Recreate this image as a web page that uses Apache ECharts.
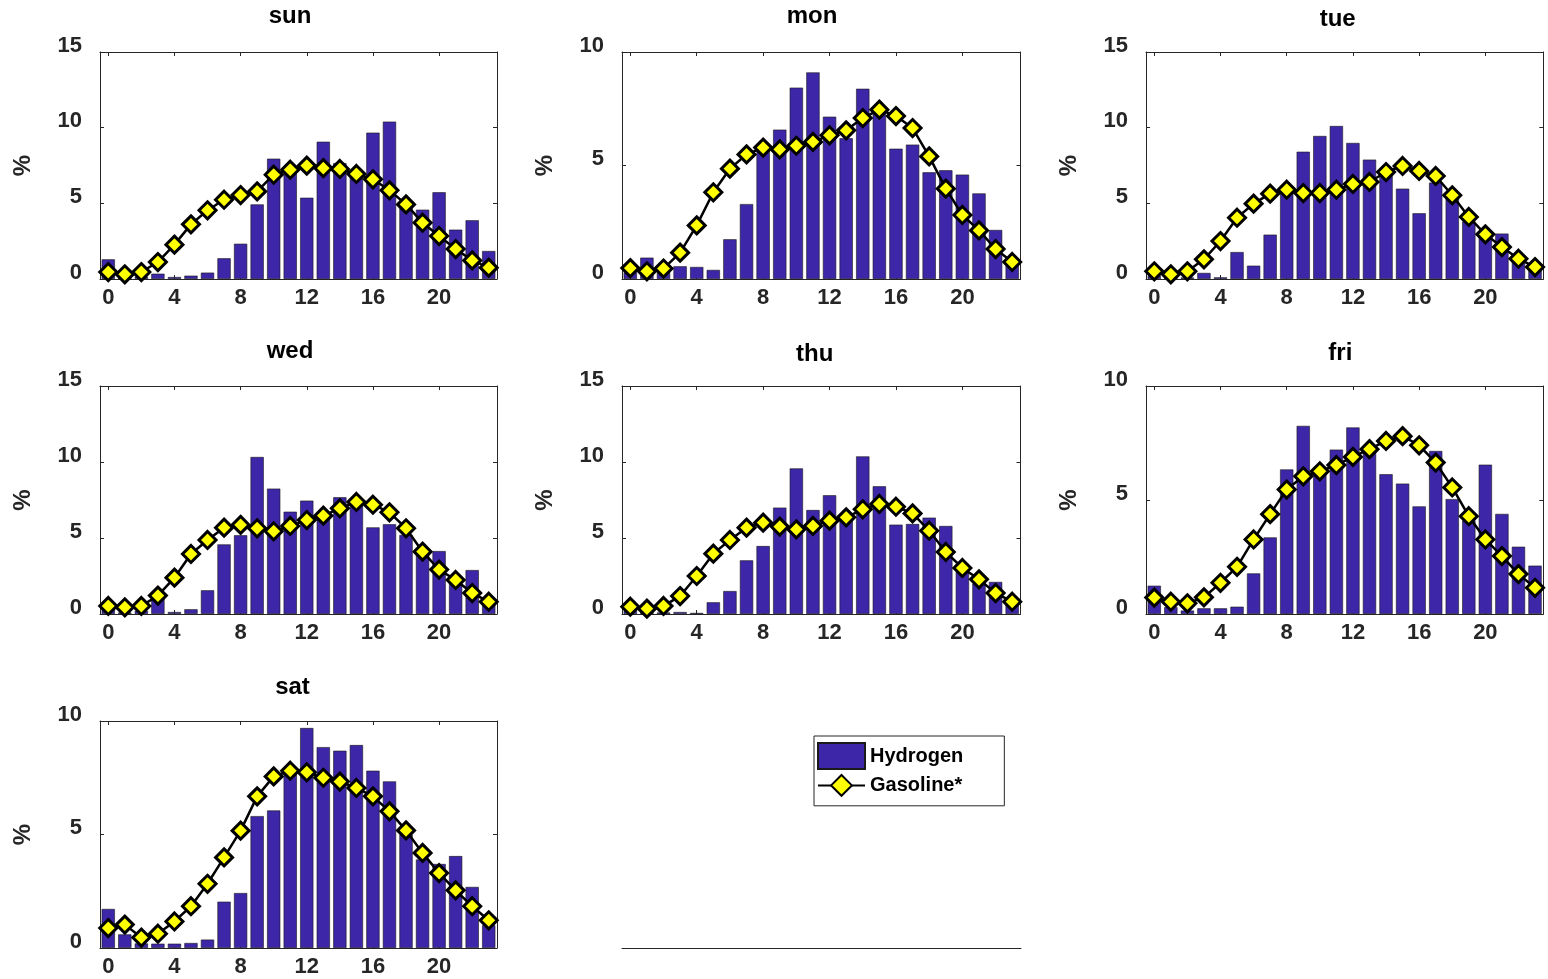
<!DOCTYPE html>
<html><head><meta charset="utf-8">
<script src="https://cdn.jsdelivr.net/npm/echarts@6/dist/echarts.min.js"></script>
<style>html,body{margin:0;padding:0;background:#fff}#c{width:1548px;height:979px}</style>
</head><body><div id="c"></div>
<script>
// ---- data ----
const hours = ['0','1','2','3','4','5','6','7','8','9','10','11','12','13','14','15','16','17','18','19','20','21','22','23'];
const dayNames = ['sun','mon','tue','wed','thu','fri','sat'];
const yMax = [15, 10, 15, 15, 15, 10, 10];
const yStep = 5;
const seriesNames = ['Hydrogen', 'Gasoline*'];

const sunH = [1.30,0.25,0.15,0.35,0.13,0.22,0.42,1.37,2.33,4.93,7.95,7.3,5.37,9.07,7.66,7.0,9.67,10.4,5.0,4.58,5.73,3.26,3.88,1.85];
const sunG = [0.46,0.31,0.46,1.12,2.27,3.61,4.54,5.24,5.55,5.79,6.89,7.22,7.49,7.33,7.27,6.94,6.59,5.86,4.93,3.72,2.84,1.98,1.23,0.75];
const monH = [0.3,0.94,0.3,0.56,0.53,0.40,1.75,3.30,5.75,6.58,8.43,9.10,7.15,6.20,8.38,7.3,5.74,5.92,4.70,4.79,4.60,3.77,2.16,0.6];
const monG = [0.48,0.34,0.46,1.16,2.36,3.82,4.86,5.49,5.79,5.71,5.87,6.04,6.33,6.55,7.09,7.46,7.18,6.65,5.40,3.98,2.82,2.14,1.32,0.75];
const tueH = [0.2,0.1,0.1,0.40,0.11,1.78,0.88,2.93,5.9,8.41,9.45,10.11,8.99,7.89,7.0,5.97,4.34,6.37,5.3,3.8,2.9,3.0,1.4,0.6];
const tueG = [0.51,0.31,0.51,1.30,2.51,4.05,4.98,5.64,5.90,5.68,5.68,5.90,6.28,6.41,7.07,7.47,7.14,6.81,5.53,4.10,2.95,2.11,1.34,0.79];
const wedH = [0.5,0.1,0.2,1.0,0.13,0.31,1.56,4.58,5.18,10.33,8.25,6.73,7.46,6.6,7.68,7.3,5.70,5.90,5.2,3.9,4.14,2.3,2.89,0.8];
const wedG = [0.53,0.44,0.53,1.21,2.39,3.95,4.87,5.68,5.86,5.64,5.44,5.79,6.18,6.47,6.95,7.37,7.19,6.69,5.64,4.10,2.92,2.24,1.38,0.81];
const thuH = [0.2,0.1,0.1,0.13,0.07,0.77,1.51,3.53,4.47,7.00,9.58,6.84,7.81,6.4,10.37,8.40,5.88,5.92,6.34,5.79,2.8,2.0,2.11,0.9];
const thuG = [0.48,0.35,0.53,1.18,2.50,3.97,4.87,5.68,6.01,5.75,5.57,5.79,6.14,6.36,6.89,7.24,7.06,6.62,5.48,4.08,3.03,2.28,1.38,0.81];
const friH = [1.24,0.3,0.15,0.25,0.25,0.32,1.78,3.36,6.34,8.25,6.2,7.21,8.18,7.2,6.13,5.72,4.72,7.15,5.04,4.1,6.55,4.39,2.95,2.12];
const friG = [0.72,0.54,0.47,0.73,1.37,2.07,3.27,4.38,5.46,6.04,6.26,6.53,6.89,7.23,7.59,7.80,7.40,6.64,5.55,4.29,3.27,2.54,1.75,1.15];
const satH = [1.72,0.60,0.2,0.19,0.19,0.22,0.37,2.04,2.42,5.81,6.06,7.7,9.69,8.85,8.69,8.94,7.81,7.34,5.0,3.9,3.70,4.05,2.69,1.0];
const satG = [0.88,1.03,0.46,0.63,1.17,1.84,2.83,3.99,5.17,6.68,7.56,7.81,7.74,7.50,7.33,7.05,6.68,6.02,5.18,4.19,3.30,2.54,1.84,1.22];

const hydrogen = [sunH, monH, tueH, wedH, thuH, friH, satH];
const gasoline = [sunG, monG, tueG, wedG, thuG, friG, satG];

// ---- layout / style ----
const FONT = '"Liberation Sans", Arial, Helvetica, sans-serif';
const AX = '#262626';
const rects = [
  {left:100,  top:52,  width:397,   height:227, tx:290,    ty:4.6},
  {left:622,  top:52,  width:398.5, height:227, tx:812,    ty:4.6},
  {left:1146, top:52,  width:397.3, height:227, tx:1337.7, ty:7.3},
  {left:100,  top:386, width:397,   height:228, tx:290,    ty:339},
  {left:622,  top:386, width:398.5, height:228, tx:814.7,  ty:342.3},
  {left:1146, top:386, width:397.3, height:228, tx:1340.3, ty:341.6},
  {left:100,  top:721, width:397,   height:227, tx:292.5,  ty:675}
];
const legendRect = {left:622, top:721, width:399, height:227};

const grid = [], xAxis = [], yAxis = [], series = [], title = [];
const tickLine = {color: AX, width: 1};
dayNames.forEach((d, i) => {
  const r = rects[i];
  grid.push({left:r.left, top:r.top, width:r.width, height:r.height, containLabel:false});
  title.push({text:d, left:r.tx, top:r.ty, textAlign:'center', padding:0,
    textStyle:{fontFamily:FONT, fontWeight:'bold', fontSize:24, color:'#000'}});
  xAxis.push({type:'category', gridIndex:i, data:hours, position:'bottom', boundaryGap:true,
    axisLine:{show:true, onZero:false, lineStyle:tickLine},
    axisTick:{show:true, inside:true, length:4, alignWithLabel:true, interval:3, lineStyle:tickLine},
    axisLabel:{show:true, interval:3, margin:8, color:AX, fontFamily:FONT, fontWeight:'bold', fontSize:22},
    splitLine:{show:false}});
  xAxis.push({type:'category', gridIndex:i, data:hours, position:'top', boundaryGap:true,
    axisLine:{show:true, onZero:false, lineStyle:tickLine},
    axisTick:{show:true, inside:true, length:4, alignWithLabel:true, interval:3, lineStyle:tickLine},
    axisLabel:{show:false}, splitLine:{show:false}});
  yAxis.push({type:'value', gridIndex:i, min:0, max:yMax[i], interval:yStep, position:'left',
    axisLine:{show:true, onZero:false, lineStyle:tickLine},
    axisTick:{show:true, inside:true, length:4, lineStyle:tickLine},
    axisLabel:{show:true, margin:18, verticalAlign:'bottom', lineHeight:13, color:AX, fontFamily:FONT, fontWeight:'bold', fontSize:22},
    splitLine:{show:false},
    name:'%', nameLocation:'middle', nameGap:65, nameRotate:90,
    nameTextStyle:{fontFamily:FONT, fontWeight:'bold', fontSize:24, color:AX}});
  yAxis.push({type:'value', gridIndex:i, min:0, max:yMax[i], interval:yStep, position:'right',
    axisLine:{show:true, onZero:false, lineStyle:tickLine},
    axisTick:{show:true, inside:true, length:4, lineStyle:tickLine},
    axisLabel:{show:false}, splitLine:{show:false}});
  series.push({type:'bar', name:seriesNames[0], xAxisIndex:2*i, yAxisIndex:2*i, data:hydrogen[i],
    barWidth:'80%', itemStyle:{color:'#3E26A8', borderColor:'#1a1a1a', borderWidth:0.6}, z:2});
  series.push({type:'line', name:seriesNames[1], xAxisIndex:2*i, yAxisIndex:2*i, data:gasoline[i],
    symbol:'diamond', symbolSize:17, showAllSymbol:true, clip:false,
    lineStyle:{color:'#000', width:2.5},
    itemStyle:{color:'#FFFF00', borderColor:'#000', borderWidth:3}, z:3});
});
// legend axes (only its bottom line is visible)
grid.push({left:legendRect.left, top:legendRect.top, width:legendRect.width, height:legendRect.height});
xAxis.push({type:'value', gridIndex:7, min:0, max:1, axisLine:{show:true, onZero:false, lineStyle:tickLine},
  axisTick:{show:false}, axisLabel:{show:false}, splitLine:{show:false}});
yAxis.push({type:'value', gridIndex:7, min:0, max:1, show:false});

const chart = echarts.init(document.getElementById('c'), null, {renderer:'canvas'});
chart.setOption({
  animation:false,
  backgroundColor:'#fff',
  title, grid, xAxis, yAxis, series,
  legend:{orient:'vertical', left:814, top:736, itemWidth:47, itemHeight:26, itemGap:4,
    padding:[6,41,9,3], borderColor:AX, borderWidth:1, selectedMode:false,
    data:[{name:seriesNames[0], icon:'rect'}, {name:seriesNames[1]}],
    textStyle:{fontFamily:FONT, fontWeight:'bold', fontSize:20, color:'#000'}}
});
</script></body></html>
